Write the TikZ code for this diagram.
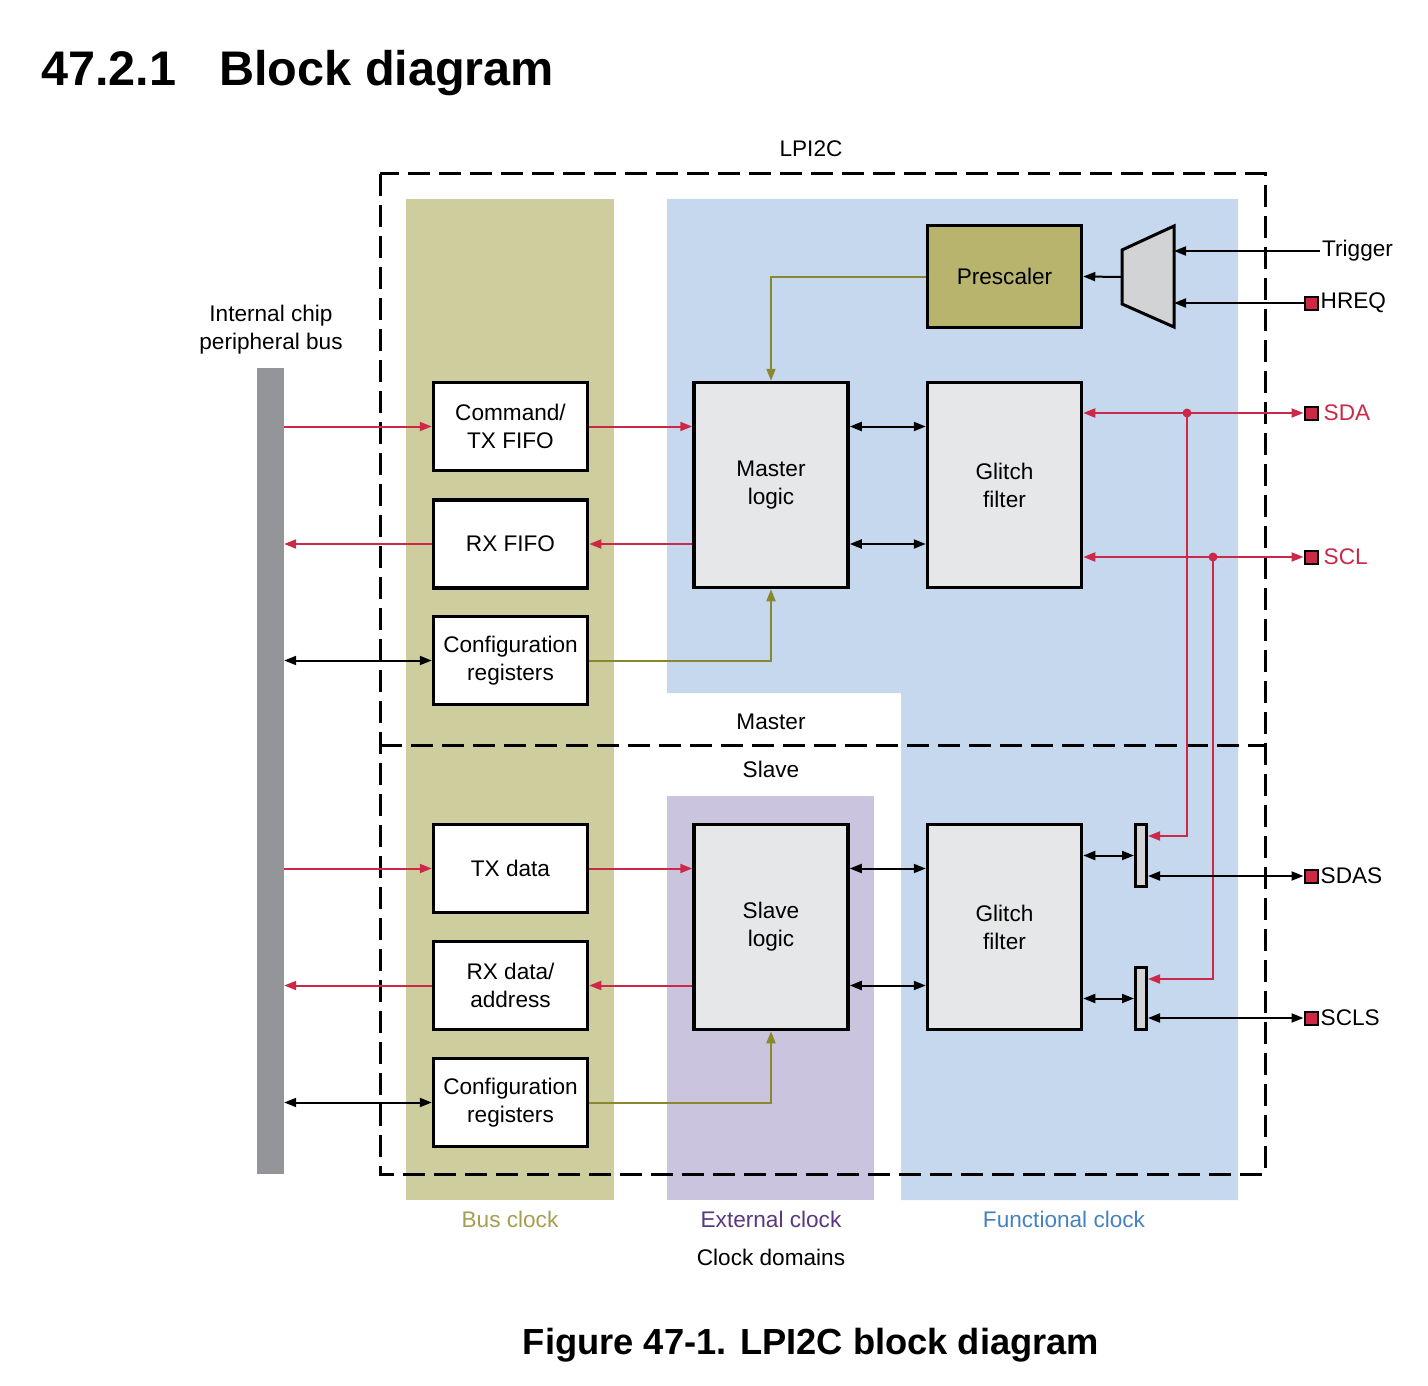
\documentclass[tikz,border=0pt]{standalone}
\usepackage{fontspec}
\setmainfont{Liberation Sans}
\usetikzlibrary{arrows.meta,calc}

\definecolor{busclk}{RGB}{206,205,157}
\definecolor{funclk}{RGB}{197,216,238}
\definecolor{extclk}{RGB}{202,196,223}
\definecolor{prescol}{RGB}{184,180,110}
\definecolor{blockgray}{RGB}{230,231,232}
\definecolor{muxgray}{RGB}{209,211,212}
\definecolor{busgray}{RGB}{147,149,152}
\definecolor{linered}{RGB}{205,40,72}
\definecolor{lineolive}{RGB}{138,136,46}
\definecolor{txtolive}{RGB}{165,158,82}
\definecolor{txtpurple}{RGB}{90,55,130}
\definecolor{txtblue}{RGB}{70,130,192}

\tikzset{
  >={Triangle[length=12pt,width=9pt]},
  fifo/.style={draw, line width=3.5pt, fill=white, minimum width=154pt, minimum height=88pt, inner sep=0pt},
  logicbox/.style={fifo, fill=blockgray, minimum height=205pt},
  padsq/.style={draw, line width=2pt, fill=linered, minimum size=13pt, inner sep=0pt},
  padlbl/.style={anchor=west, inner sep=3pt},
  redln/.style={draw=linered, line width=2pt},
  oliveln/.style={draw=lineolive, line width=2pt},
  blkln/.style={draw=black, line width=2pt},
  lpdash/.style={line width=3pt, dash pattern=on 22pt off 9pt},
}

\begin{document}
\begin{tikzpicture}[x=1pt, y=-1pt,
  every node/.style={font=\fontsize{22.6}{28}\selectfont, align=center}]
\useasboundingbox (0,0) rectangle (1428,1386);

% clock domains
\fill[busclk] (406,199) rectangle (614,1200);
\fill[funclk] (667,199) -- (1238,199) -- (1238,1200) -- (901,1200) -- (901,693) -- (667,693) -- cycle;
\fill[extclk] (667,796) rectangle (874,1200);

% LPI2C frame
\draw[lpdash] (380,174) rectangle (1265,1174);
\draw[lpdash] (380,745) -- (1265,745);
\node (lpi2c) at (811,149) {LPI2C};
\node (mastlbl) at (771,722) {Master};
\node (slvlbl) at (771,769) {Slave};

% bus
\node (bus) [fill=busgray, minimum width=27pt, minimum height=806pt, inner sep=0pt] at (270.5,771) {};
\node (buslbl) at (271,330) {Internal chip\\peripheral bus};

% master side
\node (cmdtx) [fifo] at (510.5,426.5) {Command/\\TX FIFO};
\node (rxfifo) [fifo] at (510.5,544) {RX FIFO};
\node (mcfg) [fifo] at (510.5,660.5) {Configuration\\registers};
\node (master) [logicbox] at (771,485) {Master\\logic};
\node (mglitch) [logicbox] at (1004.5,485) {Glitch\\filter};
\node (presc) [fifo, fill=prescol, minimum height=102pt] at (1004.5,276.5) {Prescaler};

% slave side
\node (txdata) [fifo] at (510.5,868.5) {TX data};
\node (rxdata) [fifo] at (510.5,985.5) {RX data/\\address};
\node (scfg) [fifo] at (510.5,1102.5) {Configuration\\registers};
\node (slave) [logicbox] at (771,927) {Slave\\logic};
\node (sglitch) [logicbox] at (1004.5,927) {Glitch\\filter};
\node (sdamux) [draw, line width=3pt, fill=muxgray, minimum width=11pt, minimum height=62pt, inner sep=0pt] at (1141,855.5) {};
\node (sclmux) [draw, line width=3pt, fill=muxgray, minimum width=11pt, minimum height=62pt, inner sep=0pt] at (1141,998.5) {};

% trigger mux
\draw[line width=3pt, fill=muxgray] (1122,250) -- (1174,226) -- (1174,327) -- (1122,304) -- cycle;
\coordinate (muxout) at (1122,277);
\coordinate (muxtrig) at (1174,251);
\coordinate (muxhreq) at (1174,303);

% pins
\node (trig) [padlbl, inner sep=2pt] at (1320,251) {Trigger};
\node (pinhreq) [padsq] at (1311,303) {};
\node [padlbl, inner sep=2pt] at (pinhreq.east) {HREQ};
\node (pinsda) [padsq] at (1311,413) {};
\node [padlbl, inner sep=5pt, text=linered] at (pinsda.east) {SDA};
\node (pinscl) [padsq] at (1311,557) {};
\node [padlbl, inner sep=5pt, text=linered] at (pinscl.east) {SCL};
\node (pinsdas) [padsq] at (1311,876) {};
\node [padlbl, inner sep=2pt] at (pinsdas.east) {SDAS};
\node (pinscls) [padsq] at (1311,1018) {};
\node [padlbl, inner sep=2pt] at (pinscls.east) {SCLS};

% master connections
\draw[redln,->] (bus.east |- cmdtx) -- (cmdtx.west);
\draw[redln,->] (cmdtx.east) -- (master.west |- cmdtx);
\draw[redln,->] (master.west |- rxfifo) -- (rxfifo.east);
\draw[redln,->] (rxfifo.west) -- (bus.east |- rxfifo);
\draw[blkln,<->] (bus.east |- mcfg) -- (mcfg.west);
\draw[oliveln,->] (mcfg.east) -| (master.south);
\draw[oliveln,->] (presc.west) -| (master.north);
\draw[blkln,<->] (master.east |- cmdtx) -- (mglitch.west |- cmdtx);
\draw[blkln,<->] (master.east |- rxfifo) -- (mglitch.west |- rxfifo);
\draw[blkln,->] (muxout) -- (presc.east);
\draw[blkln,->] (trig.west) -- (muxtrig);
\draw[blkln,->] (pinhreq.west) -- (muxhreq);
\draw[redln,<->] (mglitch.east |- pinsda) -- (pinsda.west);
\draw[redln,<->] (mglitch.east |- pinscl) -- (pinscl.west);

% taps to slave
\coordinate (sdatap) at (1187,413);
\coordinate (scltap) at (1213,557);
\draw[redln,->] (sdatap) |- ($(sdamux.north east)+(0,13)$);
\draw[redln,->] (scltap) |- ($(sclmux.north east)+(0,13)$);
\fill[linered] (sdatap) circle (4.5pt);
\fill[linered] (scltap) circle (4.5pt);

% slave connections
\draw[redln,->] (bus.east |- txdata) -- (txdata.west);
\draw[redln,->] (txdata.east) -- (slave.west |- txdata);
\draw[redln,->] (slave.west |- rxdata) -- (rxdata.east);
\draw[redln,->] (rxdata.west) -- (bus.east |- rxdata);
\draw[blkln,<->] (bus.east |- scfg) -- (scfg.west);
\draw[oliveln,->] (scfg.east) -| (slave.south);
\draw[blkln,<->] (slave.east |- txdata) -- (sglitch.west |- txdata);
\draw[blkln,<->] (slave.east |- rxdata) -- (sglitch.west |- rxdata);
\draw[blkln,<->] (sglitch.east |- sdamux) -- (sdamux.west);
\draw[blkln,<->] (sglitch.east |- sclmux) -- (sclmux.west);
\draw[blkln,<->] (sdamux.east |- pinsdas) -- (pinsdas.west);
\draw[blkln,<->] (sclmux.east |- pinscls) -- (pinscls.west);

% clock domain labels
\node (busclklbl) [text=txtolive] at (510,1219) {Bus clock};
\node (extclklbl) [text=txtpurple] at (771,1219) {External clock};
\node (funclklbl) [text=txtblue] at (1064,1219) {Functional clock};
\node (domlbl) at (771,1257) {Clock domains};

% headings
\node (secnum) [anchor=base west, inner sep=0pt, font=\bfseries\fontsize{48.6}{58}\selectfont] at (41,86) {47.2.1};
\node (sectitle) [anchor=base west, inner sep=0pt, font=\bfseries\fontsize{48.6}{58}\selectfont] at (219,86) {Block diagram};
\node (caption) [anchor=base, inner sep=0pt, font=\bfseries\fontsize{36.3}{44}\selectfont] at (811,1354) {Figure 47-1. LPI2C block diagram};
\end{tikzpicture}
\end{document}
